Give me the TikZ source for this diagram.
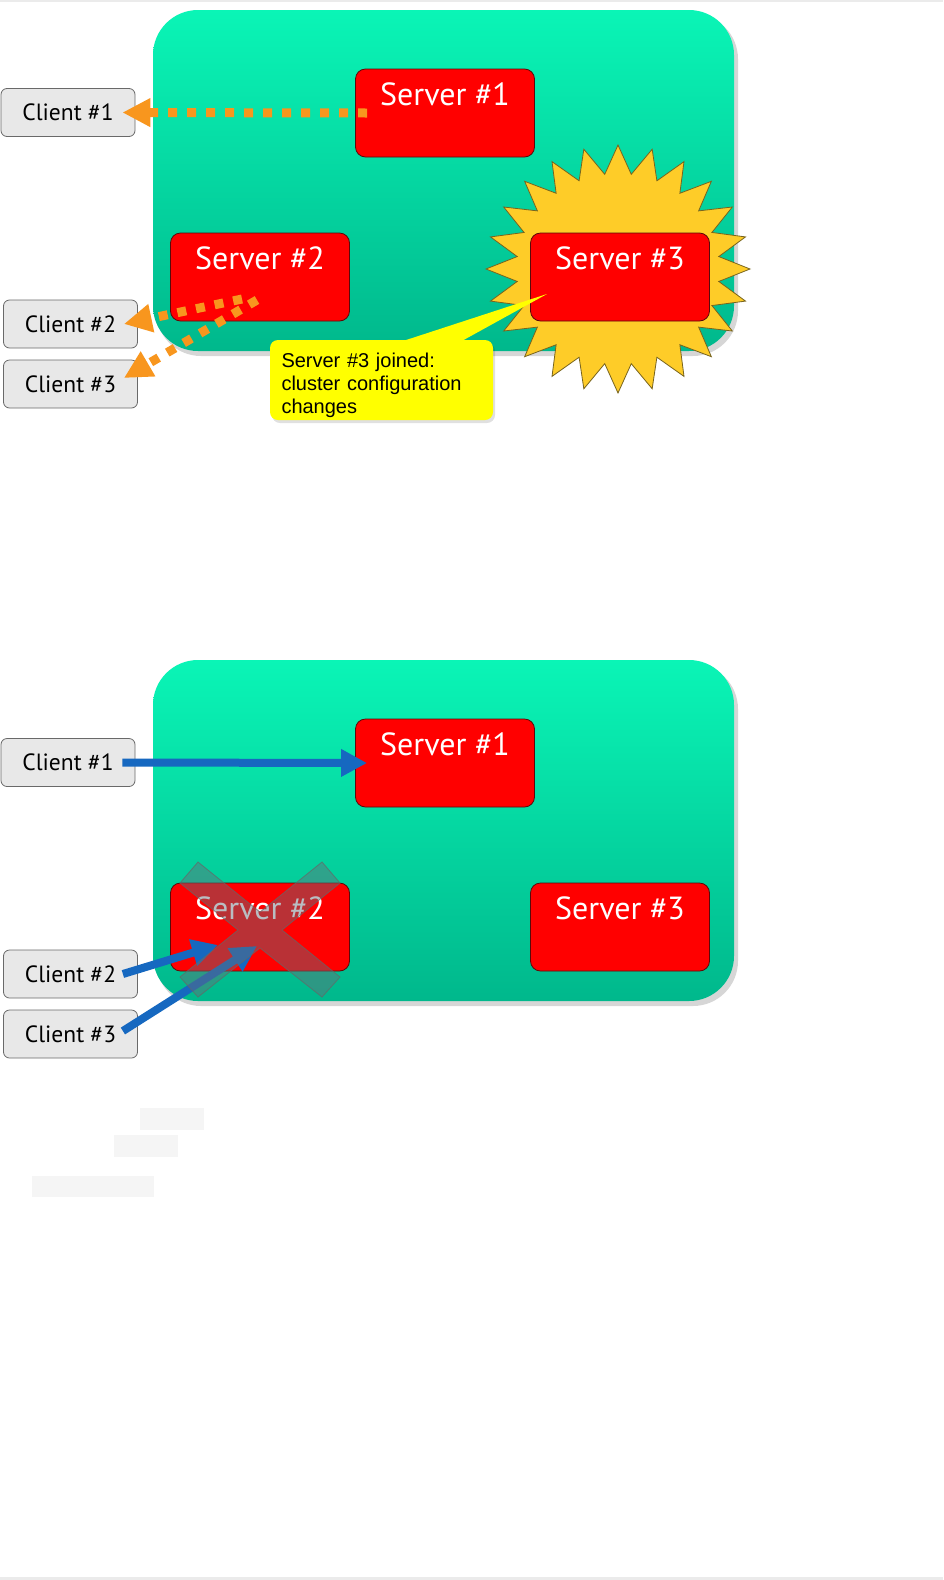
\documentclass[tikz,border=0pt]{standalone}
\usepackage{fontspec}
\setmainfont{PT Sans}
\newfontfamily\calloutfont{Liberation Sans}
\usetikzlibrary{arrows.meta}
\definecolor{greentop}{RGB}{10,245,182}
\definecolor{greenbot}{RGB}{0,184,140}
\definecolor{srvred}{RGB}{255,0,0}
\definecolor{srvedge}{RGB}{90,10,10}
\definecolor{clfill}{RGB}{232,232,232}
\definecolor{cledge}{RGB}{105,105,105}
\definecolor{orng}{RGB}{248,150,30}
\definecolor{blu}{RGB}{22,104,192}
\definecolor{burst}{RGB}{254,204,40}
\definecolor{burstedge}{RGB}{120,100,30}
\definecolor{xcol}{RGB}{100,110,120}
\definecolor{ghost}{RGB}{245,245,245}
\definecolor{noteyellow}{RGB}{255,255,0}
\tikzset{
  cluster/.style={rounded corners=45pt, top color=greentop, bottom color=greenbot, draw=none},
  clshadow/.style={rounded corners=45pt, fill=black, opacity=0.16},
  server/.style={draw=srvedge, line width=0.8pt, fill=srvred, rounded corners=10pt,
    minimum width=179pt, minimum height=88pt, inner sep=0pt, text=white,
    font=\fontsize{32}{32}\selectfont, text height=22pt, text depth=37pt},
  client/.style={draw=cledge, line width=0.8pt, fill=clfill, rounded corners=6pt,
    minimum width=134pt, minimum height=48pt, inner sep=0pt,
    font=\fontsize{23.5}{23.5}\selectfont},
  oarrow/.style={draw=orng, line width=9pt, dash pattern=on 9pt off 10pt,
    -{Triangle[length=28pt,width=27pt]}},
  barrow/.style={draw=blu, line width=8pt, -{Triangle[length=26pt,width=26pt]}},
  notebox/.style={fill=noteyellow, rounded corners=8pt, minimum width=223pt,
    minimum height=80pt, text width=200pt, align=left, inner sep=0pt,
    font=\calloutfont\fontsize{20}{23}\selectfont},
  crossmark/.style={fill=xcol, fill opacity=0.45, draw=black!60, draw opacity=0.7, line width=0.8pt},
}
\begin{document}
\begin{tikzpicture}[x=1pt,y=-1pt]
\useasboundingbox (0,0) rectangle (943,1580);
\fill[white] (0,0) rectangle (943,1580);
\fill[black!8] (0,0) rectangle (943,2);
\fill[black!8] (0,1577) rectangle (943,1580);

% ---------------- top diagram ----------------
\fill[clshadow] (156,14) rectangle (738,356);
\path[cluster] (153,10) rectangle (734,351);

\node[server] (s1) at (445,113) {Server \#1};
\node[server] (s2) at (260,277) {Server \#2};

\fill[burst, draw=burstedge, line width=0.8pt]
  plot[samples=49, domain=0:48, variable=\k]
  ({618+132*(0.885+0.115*cos(180*\k))*cos(90+7.5*\k)},
   {269-124*(0.885+0.115*cos(180*\k))*sin(90+7.5*\k)}) -- cycle;
\node[server] (s3) at (620,277) {Server \#3};

\node[client] (c1) at (68,112.5) {Client \#1};
\node[client] (c2) at (70.5,324) {Client \#2};
\node[client] (c3) at (70.5,384) {Client \#3};

\coordinate (o2) at (242,299);
\coordinate (o3) at (257,300);
\draw[oarrow] ([xshift=12pt]s1.west) -- ([xshift=-13pt]c1.east);
\draw[oarrow] (o2) -- ([xshift=-14pt]c2.east);
\draw[oarrow] (o3) -- ([xshift=-14pt,yshift=6pt]c3.east);

\coordinate (ptip) at (547,294);
\fill[black, opacity=0.12, rounded corners=8pt] (272,343) rectangle (495,423);
\fill[noteyellow] (400,342) -- (ptip) -- (460,342) -- cycle;
\node[notebox] (note) at (381.5,380) {\rule{0pt}{25pt}Server \#3 joined:\\cluster configuration\\changes};

% ---------------- bottom diagram ----------------
\fill[clshadow] (156,664) rectangle (738,1006);
\path[cluster] (153,660) rectangle (734,1001);

\node[server] (s1b) at (445,763) {Server \#1};
\node[server] (s2b) at (260,927) {Server \#2};
\node[server] (s3b) at (620,927) {Server \#3};

\node[client] (c1b) at (68,762.5) {Client \#1};
\node[client] (c2b) at (70.5,974) {Client \#2};
\node[client] (c3b) at (70.5,1034) {Client \#3};

\coordinate (b2) at (218,945);
\coordinate (b3) at (257,946);
\draw[barrow] ([xshift=-13pt]c1b.east) -- ([xshift=12pt]s1b.west);
\draw[barrow] ([xshift=-15pt]c2b.east) -- (b2);
\draw[barrow] ([xshift=-15pt,yshift=3pt]c3b.east) -- (b3);

\path[crossmark] (180,883) -- (198,862) -- (260,912) -- (322,862) -- (340,883)
  -- (282,930) -- (340,977) -- (322,997) -- (260,948) -- (198,997)
  -- (180,977) -- (238,930) -- cycle;

% faint blank strips
\fill[ghost] (140,1108) rectangle (204,1130);
\fill[ghost] (114,1135) rectangle (178,1157);
\fill[ghost] (32,1176) rectangle (154,1197);
\end{tikzpicture}
\end{document}
